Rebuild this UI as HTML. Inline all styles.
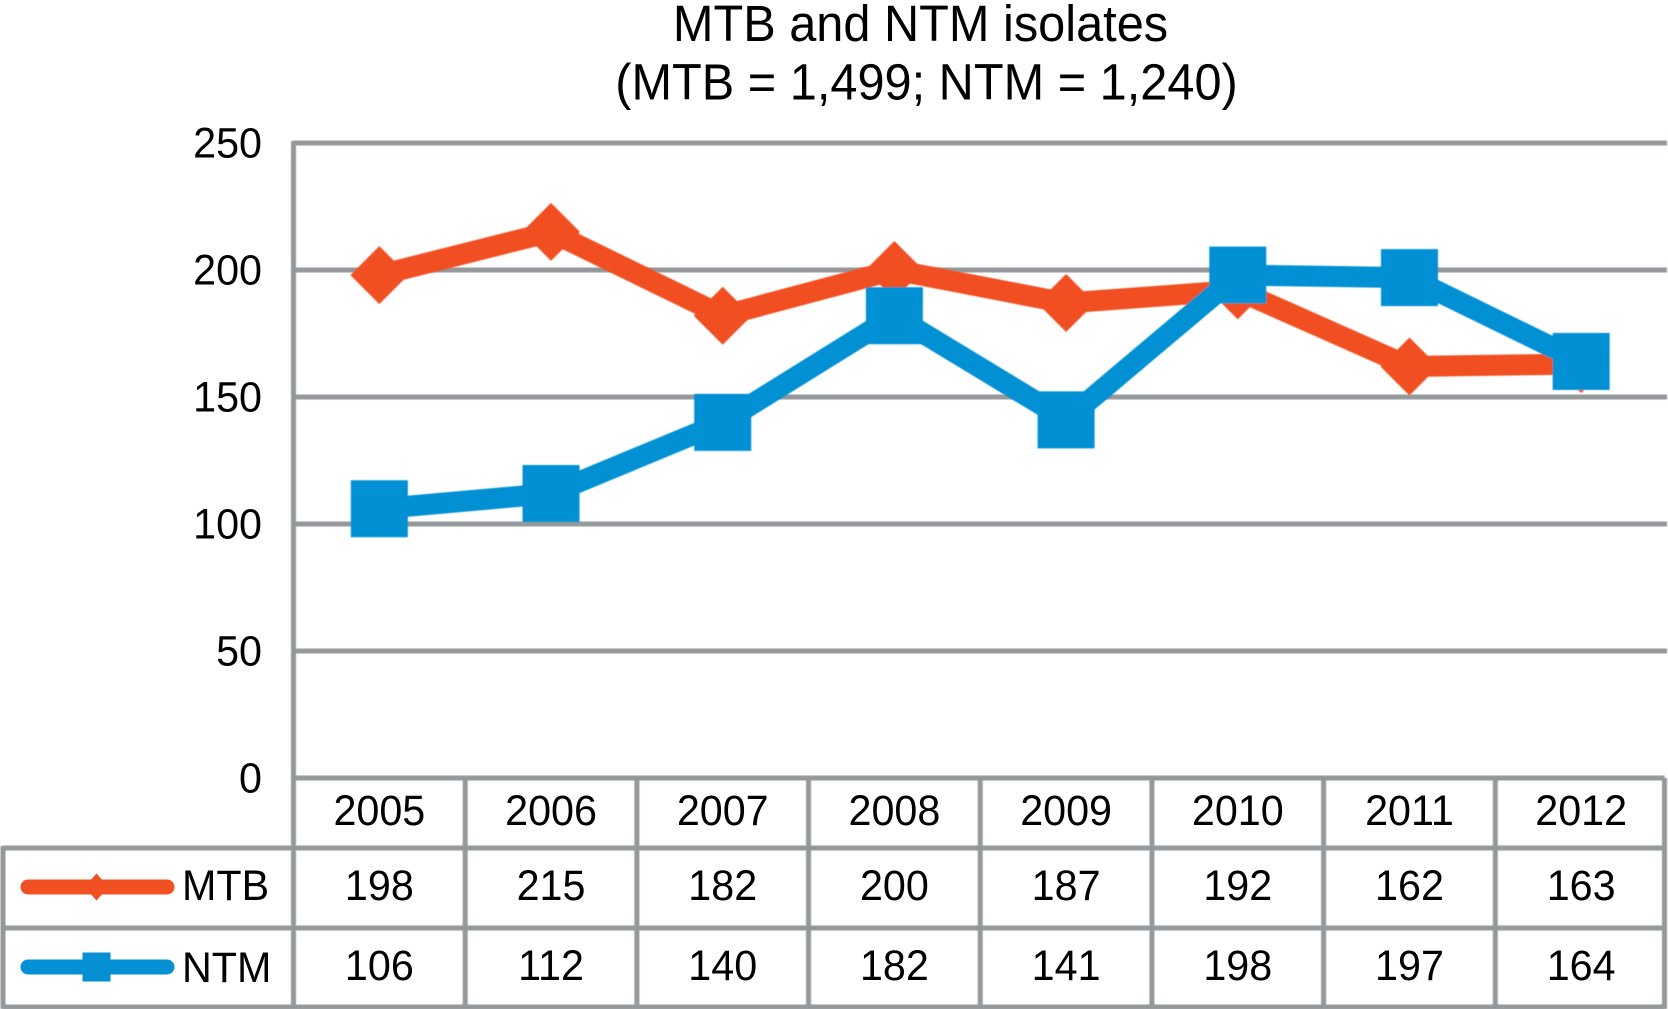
<!DOCTYPE html>
<html lang="en">
<head>
<meta charset="utf-8">
<title>MTB and NTM isolates</title>
<style>
  html, body { margin: 0; padding: 0; background: #fff; }
  body { width: 1668px; height: 1009px; overflow: hidden; }
  svg { display: block; }
  text { font-family: "Liberation Sans", Arial, sans-serif; fill: #000; }
</style>
</head>
<body>
<svg id="chart" width="1668" height="1009" viewBox="0 0 1668 1009" xmlns="http://www.w3.org/2000/svg">
  <defs>
    <filter id="soft" filterUnits="userSpaceOnUse" x="0" y="0" width="1668" height="1009">
      <feGaussianBlur stdDeviation="0.6"/>
    </filter>
  </defs>
  <text transform="translate(920.5 41) scale(0.955 1)" font-size="51" text-anchor="middle">MTB and NTM isolates</text>
  <text transform="translate(926.5 99.5) scale(0.955 1)" font-size="51" text-anchor="middle">(MTB = 1,499; NTM = 1,240)</text>
  <g id="grid" filter="url(#soft)"></g>
  <g id="yticks"></g>
  <g id="table"></g>
  <g id="series" filter="url(#soft)"></g>
  <g id="legend"></g>
</svg>
<script>
const years = ["2005", "2006", "2007", "2008", "2009", "2010", "2011", "2012"];
const mtbValues = [198, 215, 182, 200, 187, 192, 162, 163];
const ntmValues = [106, 112, 140, 182, 141, 198, 197, 164];
const yTicks = [0, 50, 100, 150, 200, 250];

const NS = "http://www.w3.org/2000/svg";
const GRID_COLOR = "#94989a";
const MTB_COLOR = "#f15022";
const NTM_COLOR = "#0490d3";
const plotLeft = 293.5, plotRight = 1667, tableRight = 1664.5, plotBottom = 778, pxPerUnit = 2.54;
const tableLeft = 3, rowHeaderBottom = 848, row1Bottom = 928, row2Bottom = 1007;
const LABEL_SIZE = 43, LABEL_SQUEEZE = 0.96;

function xScale(i) {
  const band = (plotRight - plotLeft) / years.length;
  return plotLeft + band * (i + 0.5);
}
function xEdge(i) {
  const band = (plotRight - plotLeft) / years.length;
  return plotLeft + band * i;
}
function yScale(v) {
  return plotBottom - v * pxPerUnit;
}
function make(tag, attrs, parent) {
  const el = document.createElementNS(NS, tag);
  for (const k in attrs) el.setAttribute(k, attrs[k]);
  parent.appendChild(el);
  return el;
}
function gridStroke(x1, y1, x2, y2, parent) {
  return make("line", { x1, y1, x2, y2, stroke: GRID_COLOR, "stroke-width": 5 }, parent);
}
function label(parent, x, y, str, anchor) {
  const el = make("text", {
    transform: "translate(" + x + " " + y + ") scale(" + LABEL_SQUEEZE + " 1)",
    "font-size": LABEL_SIZE,
    "text-anchor": anchor
  }, parent);
  el.textContent = str;
  return el;
}

const gridG = document.getElementById("grid");
const tickG = document.getElementById("yticks");
const tableG = document.getElementById("table");
const seriesG = document.getElementById("series");
const legendG = document.getElementById("legend");

yTicks.forEach(function (t) {
  const line = gridStroke(plotLeft, yScale(t), t === 0 ? tableRight : plotRight, yScale(t), gridG);
  
  
  const tick = label(tickG, 262, yScale(t) + 14.5, String(t), "end");
  
  
});

const axisLine = gridStroke(plotLeft, yScale(250) - 2, plotLeft, row2Bottom + 2, gridG);



[rowHeaderBottom, row1Bottom, row2Bottom].forEach(function (y) {
  const rule = gridStroke(tableLeft, y, tableRight, y, gridG);
  
  
});
const leftRule = gridStroke(tableLeft, rowHeaderBottom - 2, tableLeft, row2Bottom + 2, gridG);



years.forEach(function (year, i) {
  const edge = Math.min(xEdge(i + 1), tableRight);
  const rule = gridStroke(edge, plotBottom, edge, row2Bottom + 2, gridG);
  
  

  const head = label(tableG, xScale(i), 825, year, "middle");
  
  

  const mtbCell = label(tableG, xScale(i), 900, String(mtbValues[i]), "middle");
  
  

  const ntmCell = label(tableG, xScale(i), 980, String(ntmValues[i]), "middle");
  
  
});

function seriesLine(values, color, parent) {
  const pts = values.map(function (v, i) { return xScale(i) + "," + yScale(v); }).join(" ");
  return make("polyline", { points: pts, fill: "none", stroke: color, "stroke-width": 21, "stroke-linejoin": "round" }, parent);
}
function diamond(cx, cy, rx, ry, color, parent) {
  const pts = [[cx, cy - ry], [cx + rx, cy], [cx, cy + ry], [cx - rx, cy]].map(function (p) { return p.join(","); }).join(" ");
  return make("polygon", { points: pts, fill: color }, parent);
}
function square(cx, cy, w, h, color, parent) {
  return make("rect", { x: cx - w / 2, y: cy - h / 2, width: w, height: h, fill: color }, parent);
}

const mtbLine = seriesLine(mtbValues, MTB_COLOR, seriesG);


mtbValues.forEach(function (v, i) {
  const m = diamond(xScale(i), yScale(v), 29, 29, MTB_COLOR, seriesG);
  
  
});

const ntmLine = seriesLine(ntmValues, NTM_COLOR, seriesG);


ntmValues.forEach(function (v, i) {
  const m = square(xScale(i), yScale(v), 57, 57, NTM_COLOR, seriesG);
  
  
});

const mtbKey = make("line", { x1: 28, y1: 887, x2: 167, y2: 887, stroke: MTB_COLOR, "stroke-width": 15, "stroke-linecap": "round" }, legendG);


const mtbKeyMark = diamond(96.5, 887, 12, 13.5, MTB_COLOR, legendG);


const mtbKeyLabel = label(legendG, 182, 900, "MTB", "start");



const ntmKey = make("line", { x1: 28, y1: 967, x2: 167, y2: 967, stroke: NTM_COLOR, "stroke-width": 15, "stroke-linecap": "round" }, legendG);


const ntmKeyMark = square(96.5, 967, 28, 29, NTM_COLOR, legendG);


const ntmKeyLabel = label(legendG, 182, 982, "NTM", "start");


</script>
</body>
</html>
